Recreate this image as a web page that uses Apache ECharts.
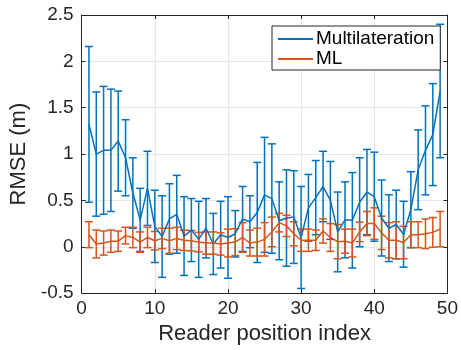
<!DOCTYPE html>
<html>
<head>
<meta charset="utf-8">
<script src="https://cdn.jsdelivr.net/npm/echarts@6/dist/echarts.min.js"></script>
<style>
  html, body { margin: 0; padding: 0; background: #fff; }
  #chart { width: 461px; height: 350px; }
</style>
</head>
<body>
<div id="chart"></div>
<script>
// Reader positions along the x axis
const positions = [1, 2, 3, 4, 5, 6, 7, 8, 9, 10, 11, 12, 13, 14, 15, 16, 17, 18, 19, 20,
  21, 22, 23, 24, 25, 26, 27, 28, 29, 30, 31, 32, 33, 34, 35, 36, 37, 38, 39, 40,
  41, 42, 43, 44, 45, 46, 47, 48, 49];

// Multilateration: mean RMSE and error half-width (m)
const multiMean = [1.32, 1.00, 1.04, 1.04, 1.14, 0.96, 0.58, 0.29, 0.63, 0.22,
  0.11, 0.30, 0.35, 0.115, 0.18, 0.08, 0.20, 0.03, 0.13, 0.10,
  0.14, 0.30, 0.27, 0.37, 0.56, 0.52, 0.28, 0.31, 0.32, 0.10,
  0.42, 0.53, 0.65, 0.50, 0.16, 0.29, 0.285, 0.48, 0.59, 0.54,
  0.31, 0.20, 0.24, 0.135, 0.40, 0.83, 1.04, 1.21, 1.68];
const multiErr = [0.84, 0.67, 0.69, 0.66, 0.54, 0.41, 0.38, 0.34, 0.40, 0.39,
  0.44, 0.38, 0.42, 0.425, 0.34, 0.41, 0.32, 0.33, 0.36, 0.44,
  0.25, 0.35, 0.28, 0.54, 0.62, 0.59, 0.42, 0.52, 0.50, 0.55,
  0.36, 0.40, 0.38, 0.42, 0.43, 0.41, 0.515, 0.48, 0.46, 0.48,
  0.41, 0.36, 0.37, 0.355, 0.41, 0.43, 0.48, 0.55, 0.72];

// ML: mean RMSE and error half-width (m)
const mlMean = [0.13, 0.03, 0.04, 0.06, 0.06, 0.12, 0.10, 0.05, 0.10, 0.065,
  0.09, 0.065, 0.09, 0.07, 0.065, 0.05, 0.04, 0.04, 0.03, 0.04,
  0.05, 0.10, 0.04, 0.05, 0.08, 0.16, 0.26, 0.225, 0.14, 0.07,
  0.07, 0.07, 0.17, 0.10, 0.055, 0.06, 0.04, 0.16, 0.25, 0.25,
  0.15, 0.07, 0.07, 0.045, 0.13, 0.13, 0.14, 0.155, 0.19];
const mlErr = [0.14, 0.15, 0.13, 0.12, 0.11, 0.09, 0.11, 0.11, 0.11, 0.10,
  0.11, 0.135, 0.12, 0.11, 0.11, 0.105, 0.12, 0.12, 0.12, 0.15,
  0.145, 0.16, 0.14, 0.15, 0.18, 0.16, 0.10, 0.115, 0.13, 0.12,
  0.12, 0.11, 0.13, 0.15, 0.185, 0.13, 0.15, 0.105, 0.13, 0.17,
  0.18, 0.19, 0.20, 0.175, 0.14, 0.14, 0.16, 0.16, 0.19];

const seriesNames = ['Multilateration', 'ML'];
const xTitle = 'Reader position index';
const yTitle = 'RMSE (m)';

const BLUE = '#0072BD';
const ORANGE = '#D95319';
const INK = '#262626';
const FONT = 'Liberation Sans, Arial, Helvetica, sans-serif';

function lineData(means) {
  return positions.map((p, i) => [p, means[i]]);
}
function barData(means, errs) {
  return positions.map((p, i) => [p, means[i], errs[i]]);
}

// Vertical error bar with horizontal caps
function errorBarRenderer(color) {
  return function (params, api) {
    const x = api.value(0);
    const m = api.value(1);
    const e = api.value(2);
    const hi = api.coord([x, m + e]);
    const lo = api.coord([x, m - e]);
    const cap = 4;
    const style = { stroke: color, lineWidth: 1.5, fill: null };
    return {
      type: 'group',
      children: [
        { type: 'line', shape: { x1: hi[0], y1: hi[1], x2: lo[0], y2: lo[1] }, style: style },
        { type: 'line', shape: { x1: hi[0] - cap, y1: hi[1], x2: hi[0] + cap, y2: hi[1] }, style: style },
        { type: 'line', shape: { x1: lo[0] - cap, y1: lo[1], x2: lo[0] + cap, y2: lo[1] }, style: style }
      ]
    };
  };
}

const chart = echarts.init(document.getElementById('chart'), null, { renderer: 'canvas' });

const axisCommon = {
  axisLine: { show: true, onZero: false, lineStyle: { color: INK, width: 1 } },
  axisTick: { show: true, inside: true, length: 4, lineStyle: { color: INK } },
};

chart.setOption({
  animation: false,
  backgroundColor: '#fff',
  textStyle: { fontFamily: FONT },
  grid: { left: 81, top: 15, width: 367, height: 283, containLabel: false },
  legend: {
    data: seriesNames,
    orient: 'vertical',
    left: 272,
    top: 26,
    padding: [3, 6, 1, 6],
    itemGap: 0,
    itemWidth: 35,
    itemHeight: 2,
    icon: 'rect',
    backgroundColor: '#fff',
    borderColor: INK,
    borderWidth: 1,
    borderRadius: 0,
    textStyle: { fontFamily: FONT, fontSize: 19, color: '#000', lineHeight: 20, padding: [0, 0, 0, -2] }
  },
  xAxis: [
    Object.assign({
      type: 'value', min: 0, max: 50, interval: 10, position: 'bottom',
      name: xTitle, nameLocation: 'middle', nameGap: 27,
      nameTextStyle: { fontFamily: FONT, fontSize: 22, color: INK },
      axisLabel: { fontFamily: FONT, fontSize: 19, color: INK, margin: 6 },
      splitLine: { show: true, lineStyle: { color: '#e6e6e6', width: 1 } }
    }, axisCommon),
    Object.assign({
      type: 'value', min: 0, max: 50, interval: 10, position: 'top',
      axisLabel: { show: false }, splitLine: { show: false }
    }, axisCommon)
  ],
  yAxis: [
    Object.assign({
      type: 'value', min: -0.5, max: 2.5, interval: 0.5, position: 'left',
      name: yTitle, nameLocation: 'middle', nameGap: 48,
      nameTextStyle: { fontFamily: FONT, fontSize: 22, color: INK },
      axisLabel: { fontFamily: FONT, fontSize: 19, color: INK, margin: 8,
        formatter: v => (Math.abs(v) < 1e-9 ? '0' : String(v)) },
      splitLine: { show: true, lineStyle: { color: '#e6e6e6', width: 1 } }
    }, axisCommon),
    Object.assign({
      type: 'value', min: -0.5, max: 2.5, interval: 0.5, position: 'right',
      axisLabel: { show: false }, splitLine: { show: false }
    }, axisCommon)
  ],
  series: [
    {
      name: 'Multilateration bars', type: 'custom', xAxisIndex: 0, yAxisIndex: 0,
      renderItem: errorBarRenderer(BLUE), data: barData(multiMean, multiErr), silent: true
    },
    {
      name: seriesNames[0], type: 'line', xAxisIndex: 0, yAxisIndex: 0,
      data: lineData(multiMean), showSymbol: false, color: BLUE,
      lineStyle: { color: BLUE, width: 1.5 }
    },
    {
      name: 'ML bars', type: 'custom', xAxisIndex: 0, yAxisIndex: 0,
      renderItem: errorBarRenderer(ORANGE), data: barData(mlMean, mlErr), silent: true
    },
    {
      name: seriesNames[1], type: 'line', xAxisIndex: 0, yAxisIndex: 0,
      data: lineData(mlMean), showSymbol: false, color: ORANGE,
      lineStyle: { color: ORANGE, width: 1.5 }
    }
  ]
});
</script>
</body>
</html>
